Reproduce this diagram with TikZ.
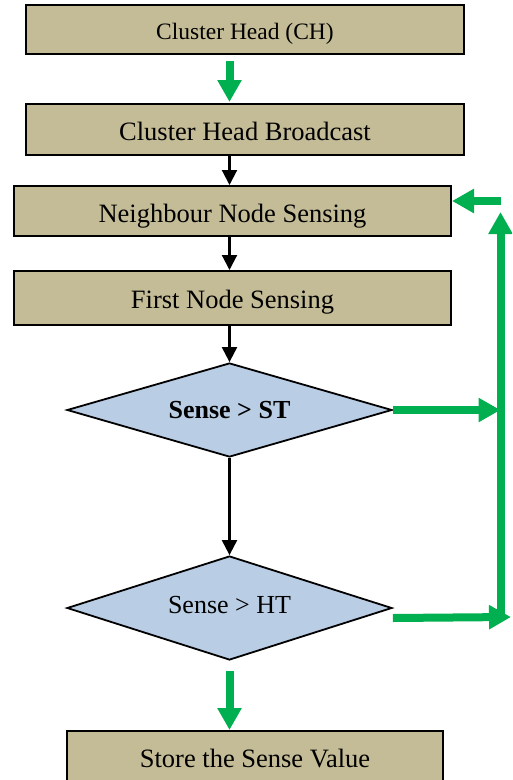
\documentclass[tikz,border=0pt]{standalone}
\usepackage{fontspec}
\setmainfont{Liberation Serif}
\usetikzlibrary{shapes.geometric,arrows.meta}
\definecolor{boxtan}{HTML}{C4BC96}
\definecolor{paleblue}{HTML}{B9CDE5}
\definecolor{flowgreen}{HTML}{00B050}
\begin{document}
\begin{tikzpicture}[x=1pt,y=-1pt,
  procbox/.style={draw=black, line width=2pt, fill=boxtan, inner sep=0pt,
    text height=26pt, text depth=5pt, font=\fontsize{26.5}{30}\selectfont},
  decision/.style={diamond, draw=black, line width=1.8pt, fill=paleblue,
    inner sep=0pt, aspect=3.4, font=\fontsize{26}{30}\selectfont},
  flow/.style={draw=black, line width=2.1pt, -{Triangle[width=15pt,length=15pt]}},
  gflow/.style={draw=flowgreen, line width=8pt, -{Triangle[width=23pt,length=22pt]}}]
\useasboundingbox (0,0) rectangle (512,780);
\clip (0,0) rectangle (512,780);

% process boxes
\node[procbox, minimum width=438pt, minimum height=49pt, text height=24pt,
  font=\fontsize{23.5}{28}\selectfont] (ch) at (245,29.5) {Cluster Head (CH)};
\node[procbox, minimum width=438pt, minimum height=51pt, text height=27pt] (bc) at (245,129.5) {Cluster Head Broadcast};
\node[procbox, minimum width=437pt, minimum height=50pt, text height=28pt] (nn) at (232.5,211) {Neighbour Node Sensing};
\node[procbox, minimum width=437pt, minimum height=54pt, text height=25pt] (fn) at (232.5,298) {First Node Sensing};

% decisions
\node[decision, minimum width=325pt, minimum height=94pt, text height=22pt, text depth=6pt]
  (d1) at (229.5,410) {\textbf{Sense > ST}};
\node[decision, minimum width=325pt, minimum height=104pt, text height=18pt, text depth=8pt]
  (d2) at (229.5,608) {Sense > HT};

% final store box (runs off the lower edge)
\node[procbox, minimum width=376pt, minimum height=70pt, anchor=north] (sv) at (255,730)
  {\raisebox{9.5pt}{Store the Sense Value}};

% main flow
\draw[gflow, shorten <=6pt, shorten >=1pt] (ch.south -| d1.center) -- (bc.north -| d1.center);
\draw[flow] (bc.south -| d1.center) -- (nn.north -| d1.center);
\draw[flow] (nn.south -| d1.center) -- (fn.north -| d1.center);
\draw[flow] (fn.south -| d1.center) -- (d1.north);
\draw[flow] (d1.south) -- (d2.north);
\draw[gflow, shorten <=10pt] (d2.south) -- (sv.north -| d2.south);

% feedback loop on the right
\coordinate (loopTop) at (500.5,201);
\coordinate (vTip) at (500.5,212);
\coordinate (loopBot) at (500.5,617);
\coordinate (hEnd) at (511,617);
\draw[gflow] (d1.east) -- (d1.east -| loopBot);
\draw[gflow] (loopBot) -- (vTip);
\draw[gflow] (loopTop) -- (nn.east |- loopTop);
\draw[gflow] (d2.east) ++(0,10) -- (hEnd);
\end{tikzpicture}
\end{document}
